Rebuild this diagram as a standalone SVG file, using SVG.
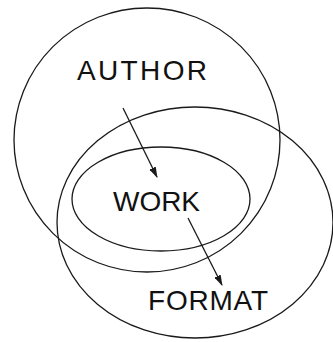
<svg xmlns="http://www.w3.org/2000/svg" width="333" height="342" viewBox="0 0 333 342">
<defs>
<style>
.ring{fill:none;stroke:#1a1a1a;stroke-width:1.3}
.lbl{font-family:"Liberation Sans",Arial,sans-serif;font-size:28px;fill:#111}
.con{stroke:#1a1a1a;stroke-width:1.3;fill:none}
</style>
<marker id="ah" markerWidth="11" markerHeight="7" refX="10" refY="3.5" orient="auto" markerUnits="userSpaceOnUse">
<path d="M0,0 L11,3.5 L0,7 Z" fill="#1a1a1a"/>
</marker>
</defs>
<rect width="333" height="342" fill="#fff"/>
<g id="author">
<ellipse class="ring" cx="147" cy="140" rx="133" ry="132"/>
<text class="lbl" x="77" y="80" textLength="130">AUTHOR</text>
</g>
<g id="format">
<ellipse class="ring" cx="195" cy="222.5" rx="138" ry="115.5"/>
<text class="lbl" x="148" y="310" textLength="120">FORMAT</text>
</g>
<g id="work">
<ellipse class="ring" cx="161" cy="199" rx="89" ry="52"/>
<text class="lbl" x="113" y="211" textLength="87">WORK</text>
</g>
<g id="connectors">
<line class="con" x1="123" y1="108" x2="157" y2="177" marker-end="url(#ah)"/>
<line class="con" x1="188" y1="218" x2="222" y2="285" marker-end="url(#ah)"/>
</g>
</svg>
